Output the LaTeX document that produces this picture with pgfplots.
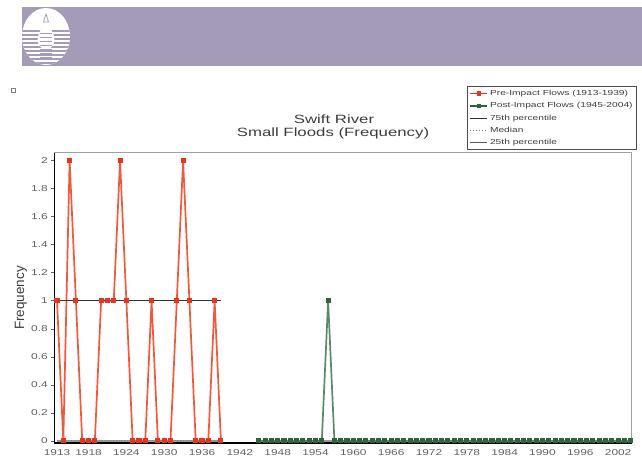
\documentclass[border=0pt]{standalone}
\usepackage{fontspec}
\setmainfont{Liberation Sans}[FakeStretch=1.4]
\newfontfamily\ylabfont{Liberation Sans}
\usepackage{pgfplots}
\pgfplotsset{compat=1.18}
\definecolor{band}{RGB}{163,155,183}
\definecolor{redl}{RGB}{242,88,58}
\definecolor{redm}{RGB}{232,52,30}
\definecolor{greenl}{RGB}{92,138,102}
\definecolor{greenm}{RGB}{48,98,62}
\definecolor{txt}{RGB}{60,60,60}
\definecolor{tickc}{RGB}{95,95,95}
\begin{document}
\begin{tikzpicture}[x=1pt,y=1pt]
\useasboundingbox (0,0) rectangle (642,463);
% banner
\fill[band] (22,397) rectangle (642,456);
\begin{scope}
\clip (46,426.5) ellipse [x radius=24, y radius=28.5];
\fill[white] (20,395) rectangle (75,460);
\foreach \yy in {399,403,...,431} \fill[band] (20,\yy) rectangle (75,\yy+1.7);
\fill[white] (46,446) .. controls (44,436) and (36,430) .. (38,420) .. controls (40,412) and (52,412) .. (54,420) .. controls (56,430) and (48,436) .. (46,446) -- cycle;
\foreach \yy in {405,409,...,431} \fill[band] (40,\yy) rectangle (52,\yy+1.0);
\draw[band, line width=0.8] (46,449) -- (43.5,441) -- (48.5,441) -- cycle;
\end{scope}
\draw[gray, line width=0.8] (11,371) rectangle (15,375);
% titles
\node[txt, anchor=base, font=\fontsize{12}{13}\selectfont] at (334,339) {Swift River};
\node[txt, anchor=base, font=\fontsize{12}{13}\selectfont] at (333,326) {Small Floods (Frequency)};
\node[txt, rotate=90, font=\ylabfont\fontsize{13.5}{14}\selectfont] at (21,165) {Frequency};
\begin{axis}[
  at={(54.3pt,20pt)}, anchor=south west, scale only axis,
  width=577.7pt, height=290.3pt,
  xmin=1912.57, xmax=2004.2, ymin=-0.015, ymax=2.057,
  xtick={1913,1918,1924,1930,1936,1942,1948,1954,1960,1966,1972,1978,1984,1990,1996,2002},
  ytick={0,0.2,0.4,0.6,0.8,1,1.2,1.4,1.6,1.8,2},
  yticklabels={0,0.2,0.4,0.6,0.8,1,1.2,1.4,1.6,1.8,2},
  x tick label style={/pgf/number format/1000 sep={}},
  /pgf/number format/assume math mode=true,
  tick label style={font=\fontsize{8.5}{9.5}\selectfont, text=tickc},
  xtick style={draw=none}, ytick style={draw=tickc, line width=0.6pt},
  tick align=outside, major tick length=3pt, ytick pos=left, xtick pos=bottom,
  axis line style={draw=gray!75, line width=1pt},
  clip=false,
  legend style={at={(axis description cs:1.0087,1.009)}, anchor=south east,
    font=\fontsize{7.3}{8.8}\selectfont, text=txt, draw=gray!60!black, line width=0.8pt,
    inner xsep=2pt, inner ysep=1.8pt, row sep=1.4pt, cells={anchor=west}},
]
\addlegendimage{redm, line width=1.4pt, mark=square*, mark size=1.6pt}
\addlegendentry{Pre-Impact Flows (1913-1939)}
\addlegendimage{greenm, line width=1.4pt, mark=square*, mark size=1.6pt}
\addlegendentry{Post-Impact Flows (1945-2004)}
\addlegendimage{black!80, line width=0.7pt}
\addlegendentry{75th percentile}
\addlegendimage{gray, line width=0.9pt, dotted}
\addlegendentry{Median}
\addlegendimage{black!65, line width=0.7pt}
\addlegendentry{25th percentile}

% percentile lines
\addplot[forget plot, gray!80, line width=1.4pt] coordinates {(1913,0) (1939,0)};
\addplot[forget plot, gray!80, line width=1.4pt] coordinates {(1945,0) (2004,0)};

% pre-impact
\addplot[forget plot, redl, line width=1.7pt, mark=square*, mark size=1.7pt,
  mark options={fill=redm, draw=redm}] coordinates {
(1913,1) (1914,0) (1915,2) (1916,1) (1917,0) (1918,0) (1919,0) (1920,1) (1921,1)
(1922,1) (1923,2) (1924,1) (1925,0) (1926,0) (1927,0) (1928,1) (1929,0) (1930,0)
(1931,0) (1932,1) (1933,2) (1934,1) (1935,0) (1936,0) (1937,0) (1938,1) (1939,0)};

% post-impact
\addplot[forget plot, greenl, line width=1.7pt, mark=square*, mark size=1.7pt,
  mark options={fill=greenm, draw=greenm}] coordinates {
(1945,0) (1946,0) (1947,0) (1948,0) (1949,0) (1950,0) (1951,0) (1952,0) (1953,0)
(1954,0) (1955,0) (1956,1) (1957,0) (1958,0) (1959,0) (1960,0) (1961,0) (1962,0)
(1963,0) (1964,0) (1965,0) (1966,0) (1967,0) (1968,0) (1969,0) (1970,0) (1971,0)
(1972,0) (1973,0) (1974,0) (1975,0) (1976,0) (1977,0) (1978,0) (1979,0) (1980,0)
(1981,0) (1982,0) (1983,0) (1984,0) (1985,0) (1986,0) (1987,0) (1988,0) (1989,0)
(1990,0) (1991,0) (1992,0) (1993,0) (1994,0) (1995,0) (1996,0) (1997,0) (1998,0)
(1999,0) (2000,0) (2001,0) (2002,0) (2003,0) (2004,0)};

% 75th percentile (pre)
\addplot[forget plot, black!80, line width=0.7pt] coordinates {(1913,1) (1939,1)};
\addplot[forget plot, gray, line width=0.8pt, dotted] coordinates {(1913,0) (1939,0)};

\draw[black, line width=1.1pt] (rel axis cs:0,1) -- (rel axis cs:0,0) -- (rel axis cs:1,0);
\end{axis}
\end{tikzpicture}
\end{document}
